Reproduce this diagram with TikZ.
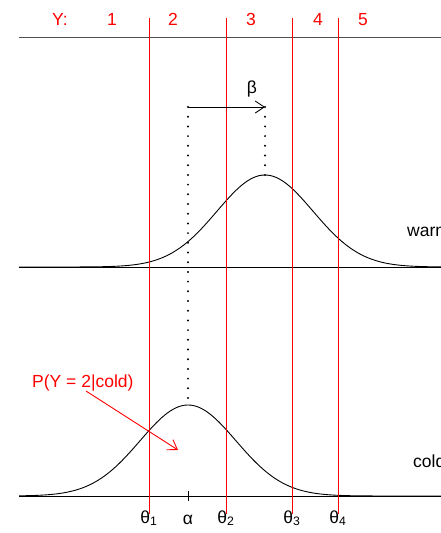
\documentclass[tikz,border=0pt]{standalone}
\usepackage{fontspec}
\setmainfont{Liberation Sans}
\usepackage{tikz}
\usetikzlibrary{arrows.meta,positioning}
\definecolor{cutred}{HTML}{FF0000}
\definecolor{axisgray}{HTML}{505050}

\begin{document}
\begin{tikzpicture}[x=1pt, y=-1pt,
    every node/.style={font=\fontsize{17.5}{20}\selectfont, inner sep=0pt},
    cutline/.style={cutred, line width=0.9pt},
    baseln/.style={black, line width=0.9pt},
    density/.style={black, line width=0.9pt, smooth, samples=150},
    dotln/.style={line width=2.2pt, line cap=round, dash pattern=on 0pt off 9.7pt},
    shiftarrow/.style={line width=0.9pt, -{Straight Barb[length=9pt,width=12pt]}}]
    \useasboundingbox (0,0) rectangle (441,533);

    % Category scale on top
    \draw[axisgray, line width=1pt] (19,37) -- (445,37);
    \node[cutred, anchor=base] (ylab) at (60,25) {Y:};
    \foreach \cx/\cat in {112/1, 173/2, 251/3, 318/4, 363/5} {
        \node[cutred, anchor=base] (cat\cat) at (\cx,25) {\cat};
    }

    % Baselines of the two densities
    \draw[baseln] (19,267) -- (445,267);
    \draw[baseln] (19,496) -- (445,496);

    % Densities (sd 48px)
    \draw[density] plot[domain=-5.13:3.75] ({265+48*\x},{267-92*exp(-0.5*(\x)^2)});
    \draw[density] plot[domain=-3.52:5.35] ({188+48*\x},{496-91*exp(-0.5*(\x)^2)});
    \coordinate (warmpeak) at (265,175);
    \coordinate (coldpeak) at (188,405);
    \node[anchor=base west] (warm) at (407,236) {warm};
    \node[anchor=base west] (cold) at (413,467) {cold};

    % Thresholds
    \foreach \tx/\k in {149/1, 226/2, 292/3, 338/4} {
        \draw[cutline] (\tx,18) -- (\tx,514);
        \node[anchor=base] (theta\k) at (\tx,523) {θ\textsubscript{\k}};
    }

    % alpha tick
    \draw[baseln] (188,491) -- (188,501);
    \node[anchor=base] (alpha) at (188,524) {α};

    % Shift beta
    \coordinate (alphatop) at (188,107);
    \coordinate (betatop) at (265,107);
    \draw[shiftarrow] (alphatop) -- (betatop);
    \node[anchor=base] (beta) at (252,93) {β};
    \draw[dotln] (alphatop) -- (coldpeak);
    \draw[dotln] (betatop) -- (warmpeak);

    % Probability label
    \node[cutred, anchor=base west] (plab) at (32,387) {P(Y = 2|cold)};
    \coordinate (pstart) at (86,391);
    \coordinate (pend) at (178,450);
    \draw[cutred, line width=0.9pt, -{Straight Barb[length=9pt,width=12pt]}] (pstart) -- (pend);
\end{tikzpicture}
\end{document}
